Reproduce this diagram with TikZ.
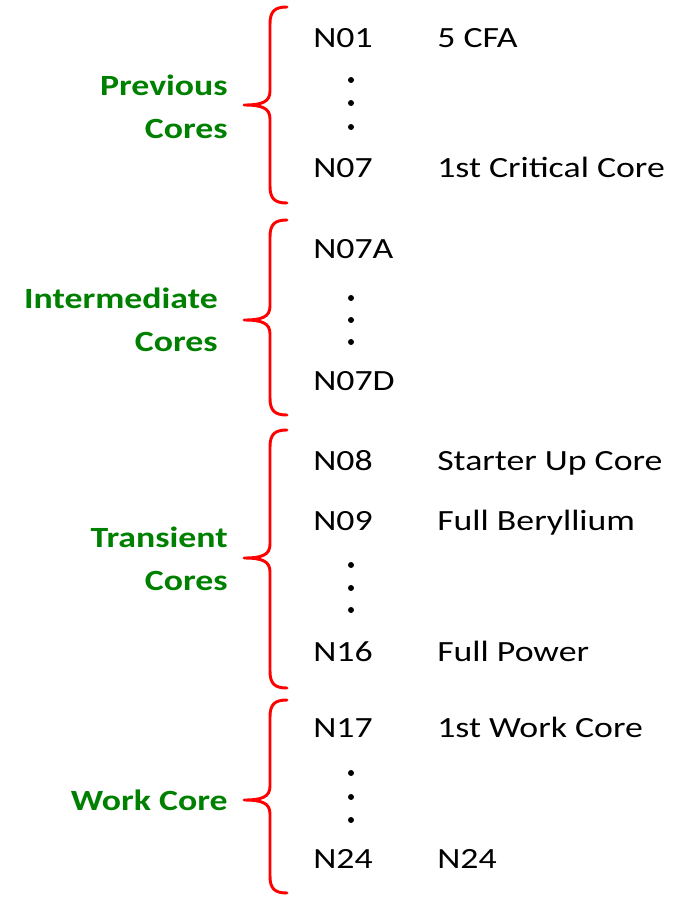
\documentclass[tikz,border=0pt]{standalone}
\usepackage{fontspec}
\setmainfont{Carlito}[FakeStretch=1.22]
\usepackage{tikz}
\usetikzlibrary{positioning}

\definecolor{grpgreen}{RGB}{0,128,0}
\definecolor{bracered}{RGB}{255,0,0}

\begin{document}
\begin{tikzpicture}[x=0.75pt, y=-0.75pt]
    \tikzset{
        core/.style     =   { anchor=base west
                            , inner sep=0pt
                            , font=\fontsize{22}{26}\selectfont
        }
        , desc/.style   =   { core
        }
        , grp/.style    =   { anchor=east
                            , align=right
                            , inner sep=0pt
                            , text=grpgreen
                            , font=\fontsize{22}{32}\selectfont\bfseries
        }
        , curly/.style  =   { bracered
                            , line width=2.2pt
                            , line cap=round
                            , line join=round
        }
    }
    \useasboundingbox (0,0) rectangle (684,897);

    % groups
    \node(g1)[grp] at (228,107) {Previous\\Cores};
    \node(g2)[grp] at (218,320) {Intermediate\\Cores};
    \node(g3)[grp] at (228,559) {Transient\\Cores};
    \node(g4)[grp] at (228,800) {Work Core};

    % braces
    \foreach \t/\m/\b in {7/105/203, 220/320/415, 430/558/688, 700/800/893}
        \draw[curly] (287,\t) .. controls (275,\t) and (270,\t+4) .. (270,\t+17)
                     -- (270,\m-14) .. controls (270,\m-3) and (262,\m) .. (244,\m)
                     .. controls (262,\m) and (270,\m+3) .. (270,\m+14)
                     -- (270,\b-17) .. controls (270,\b-4) and (275,\b) .. (287,\b);

    % cores
    \node(n01)[core] at (313,47)  {N01};
    \node(d01)[desc] at (437,47)  {5 CFA};
    \node(n07)[core] at (313,177) {N07};
    \node(d07)[desc] at (437,177) {1st Critical Core};
    \node(n07a)[core] at (313,258) {N07A};
    \node(n07d)[core] at (313,390) {N07D};
    \node(n08)[core] at (313,470) {N08};
    \node(d08)[desc] at (437,470) {Starter Up Core};
    \node(n09)[core] at (313,530) {N09};
    \node(d09)[desc] at (437,530) {Full Beryllium};
    \node(n16)[core] at (313,661) {N16};
    \node(d16)[desc] at (437,661) {Full Power};
    \node(n17)[core] at (313,737) {N17};
    \node(d17)[desc] at (437,737) {1st Work Core};
    \node(n24)[core] at (313,868) {N24};
    \node(d24)[desc] at (437,868) {N24};

    % dots
    \foreach \y in {80,103,127, 298,320,342, 565,588,610, 773,797,820}
        \fill (351,\y) circle (3);
\end{tikzpicture}
\end{document}
